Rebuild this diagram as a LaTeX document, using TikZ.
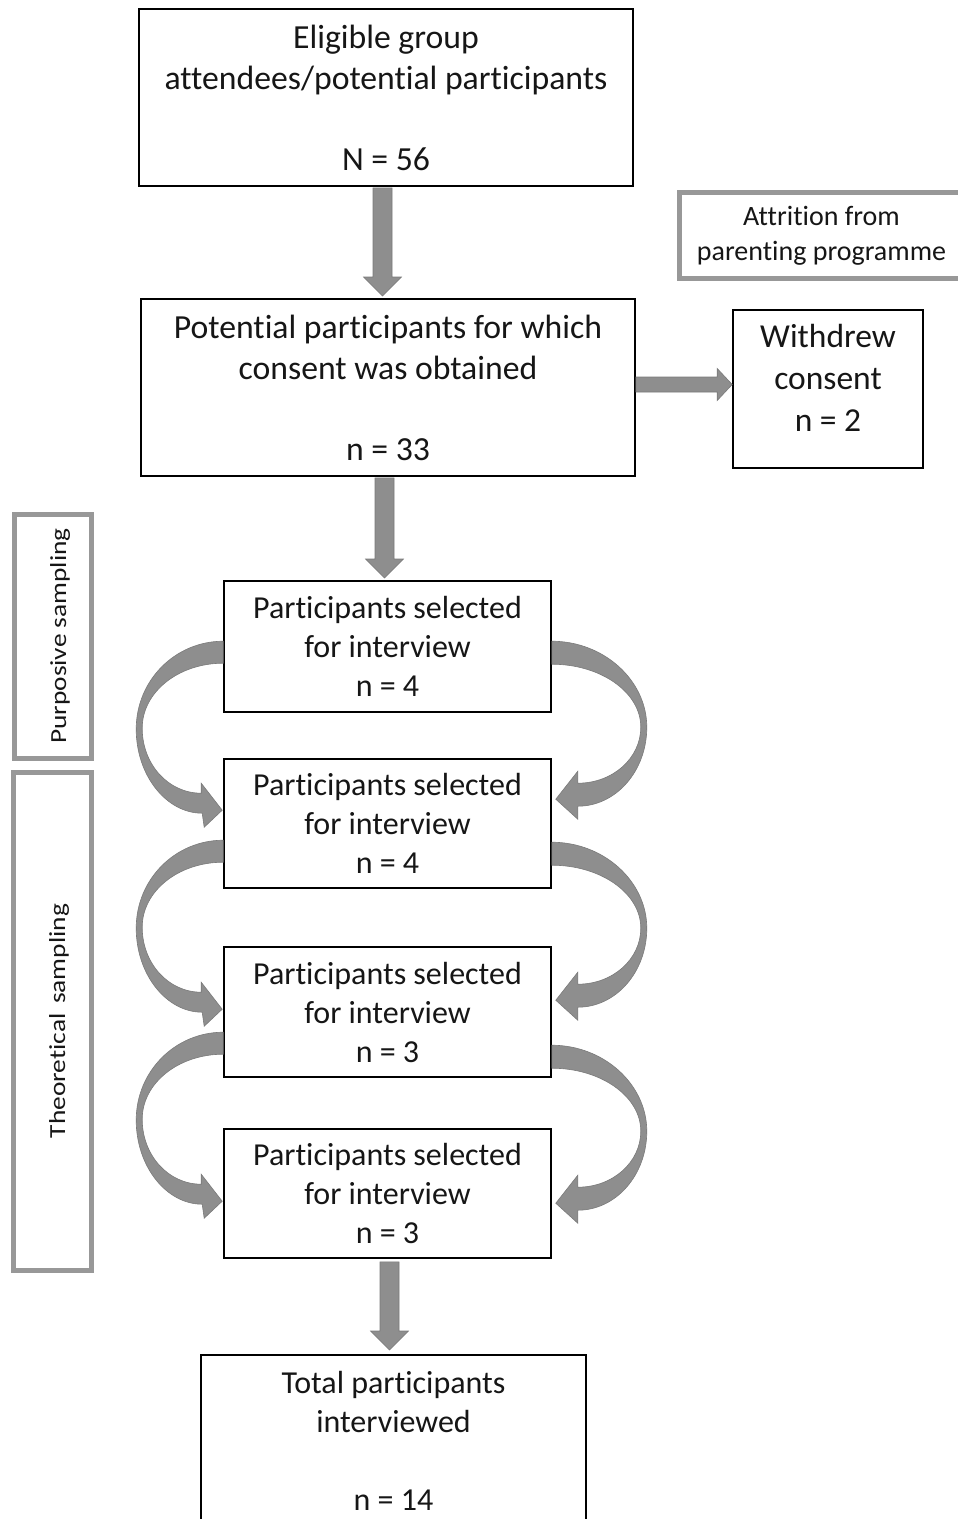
\documentclass[tikz,border=0pt]{standalone}
\usepackage{fontspec}
\setmainfont{Carlito}[Ligatures=NoCommon]
\usetikzlibrary{calc}

\definecolor{arrowgray}{RGB}{142,142,142}
\definecolor{arrowedge}{RGB}{122,122,122}
\definecolor{framegray}{RGB}{152,152,152}
\definecolor{ink}{RGB}{22,22,22}

% block arrow pointing down, from #1 (top of shaft) to #2 (tip)
\newcommand\downblock[2]{%
  \filldraw[blk] ($(#1)+(-9.5,0)$) -- ($(#1)+(9.5,0)$) -- ($(#2)+(9.5,-19)$)
    -- ($(#2)+(19,-19)$) -- (#2) -- ($(#2)+(-19,-19)$) -- ($(#2)+(-9.5,-19)$) -- cycle;}
% block arrow pointing right, from #1 (start of shaft) to #2 (tip)
\newcommand\rightblock[2]{%
  \filldraw[blk] ($(#1)+(0,-7.5)$) -- ($(#1)+(0,7.5)$) -- ($(#2)+(-15,7.5)$)
    -- ($(#2)+(-15,16)$) -- (#2) -- ($(#2)+(-15,-16)$) -- ($(#2)+(-15,-7.5)$) -- cycle;}

\tikzset{
  blk/.style={fill=arrowgray, draw=arrowedge, line width=0.6pt},
  box/.style={draw=black, line width=1.6pt, fill=white, align=center, inner sep=0pt, text=ink},
  graybox/.style={draw=framegray, line width=5pt, fill=white, align=center, inner sep=0pt, text=ink},
  bigfont/.style={font=\fontsize{33.7}{41}\selectfont},
  midfont/.style={font=\fontsize{32}{39}\selectfont},
  smallfont/.style={font=\fontsize{28}{35}\selectfont},
  sidefont/.style={font=\fontsize{23}{27}\selectfont},
  stagebox/.style={box, midfont, minimum width=327pt},
  % curved block arrow leaving a box on its left side and re-entering the next box
  loopleft/.pic={
    \filldraw[blk] (0,0) .. controls (-48,0) and (-87,39) .. (-87,88)
      .. controls (-87,134) and (-57,172) .. (-21,172) -- (-19,186) -- (-1,169)
      -- (-22,142) -- (-22,152) .. controls (-55,152) and (-81,123) .. (-81,87)
      .. controls (-81,51) and (-45,22) .. (0,22) -- cycle;
  },
  % the same on the right side
  loopright/.pic={
    \filldraw[blk] (0,0) .. controls (52,0) and (95,39) .. (95,86)
      .. controls (95,130) and (64,165) .. (26,165) -- (26,178) -- (4,158)
      -- (26,130) -- (26,142) .. controls (61,142) and (89,117) .. (89,86)
      .. controls (89,51) and (49,23) .. (0,23) -- cycle;
  }
}

\begin{document}
\begin{tikzpicture}[x=1pt, y=-1pt]
\useasboundingbox (0,0) rectangle (958,1519);
\clip (0,0) rectangle (958,1519);
\fill[white] (0,0) rectangle (958,1519);

% main flow
\node[box, bigfont, minimum width=494pt, minimum height=177pt] (b1) at (386,97.5)
  {Eligible group\\attendees/potential participants\\[40pt]N = 56};
\node[box, bigfont, minimum width=494pt, minimum height=177pt] (b2) at (388,387.5)
  {Potential participants for which\\consent was obtained\\[40pt]n = 33};

% attrition side (its right edge runs past the page)
\node[graybox, smallfont, minimum width=300pt, minimum height=86pt] (att) at (829,235.5)
  {Attrition from\hspace*{15pt}\\parenting programme\hspace*{15pt}};
\node[box, font=\fontsize{33.5}{42}\selectfont, minimum width=190pt, minimum height=158pt] (wd) at (828,389)
  {Withdrew\\consent\\n = 2\rule[-22pt]{0pt}{0pt}};

% interview rounds
\node[stagebox, minimum height=131pt] (b3) at (387.5,646.5)
  {Participants selected\\for interview\\n = 4};
\node[stagebox, minimum height=129pt] (b4) at (387.5,823.5)
  {Participants selected\\for interview\\n = 4};
\node[stagebox, minimum height=130pt] (b5) at (387.5,1012)
  {Participants selected\\for interview\\n = 3};
\node[stagebox, minimum height=129pt] (b6) at (387.5,1193.5)
  {Participants selected\\for interview\\n = 3};

\node[box, midfont, minimum width=385pt, minimum height=172pt] (tot) at (393.5,1441)
  {Total participants\\interviewed\\[39pt]n = 14};

% sampling phases
\node[graybox, sidefont, rotate=90, minimum width=244pt, minimum height=77pt] (ps) at (53,636)
  {\scalebox{1.19}[1]{\rule{0pt}{30pt}Purposive sampling}};
\node[graybox, sidefont, rotate=90, minimum width=498pt, minimum height=78pt] (ts) at (52,1021)
  {\scalebox{1.19}[1]{\rule{0pt}{30pt}Theoretical\hspace{0.35em}sampling}};

% straight block arrows
\coordinate (a1s) at ($(b1.south)+(-3.5,1)$);
\coordinate (a1t) at ($(b2.north)+(-5.5,-2.2)$);
\coordinate (a2s) at ($(b2.south)+(-3.5,1)$);
\coordinate (a2t) at ($(b3.north)+(-3,-2.2)$);
\coordinate (a3s) at ($(b2.east)+(0,-3)$);
\coordinate (a3t) at ($(wd.west)+(0,-4.5)$);
\coordinate (a4s) at ($(b6.south)+(2,3)$);
\coordinate (a4t) at ($(tot.north)+(-4,-4.2)$);
\downblock{a1s}{a1t}
\downblock{a2s}{a2t}
\rightblock{a3s}{a3t}
\downblock{a4s}{a4t}

% curved arrows between the interview rounds
\pic at ($(b3.north west)+(0,61)$) {loopleft};
\pic at ($(b4.north west)+(0,82)$) {loopleft};
\pic at ($(b5.north west)+(0,86)$) {loopleft};
\pic at ($(b3.north east)+(0,61)$) {loopright};
\pic at ($(b4.north east)+(0,84)$) {loopright};
\pic at ($(b5.north east)+(0,99)$) {loopright};
\end{tikzpicture}
\end{document}
